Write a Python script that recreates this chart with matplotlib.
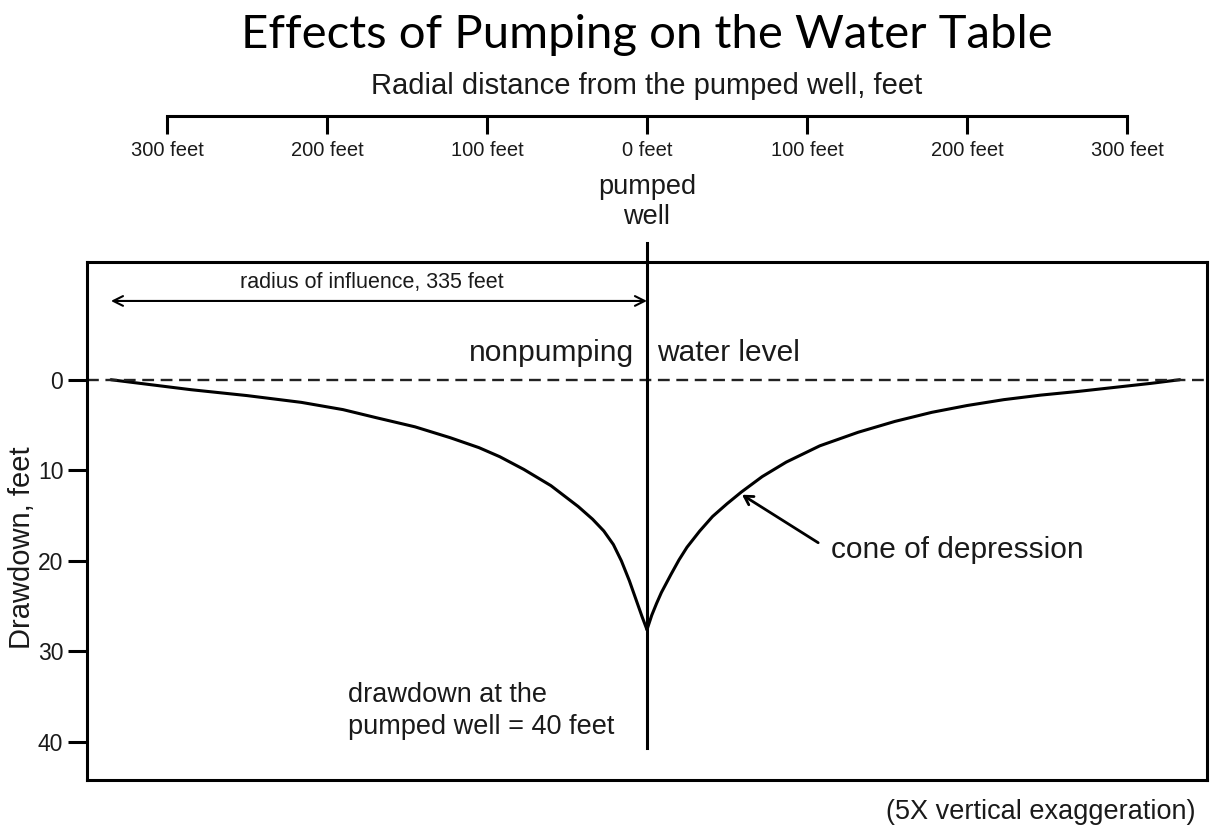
import matplotlib.pyplot as plt

# cone of depression (feet from well, drawdown in feet)
left_x = [-335, -310, -285, -250, -216, -190, -169, -145, -123, -105, -92, -77,
          -60, -43, -34, -27, -21, -16, -11, -7, -3, 0]
left_y = [0, 0.55, 1.1, 1.75, 2.5, 3.3, 4.2, 5.2, 6.4, 7.5, 8.5, 9.9,
          11.7, 14.0, 15.4, 16.7, 18.2, 20.0, 22.2, 24.2, 26.2, 27.6]
right_x = [0, 3, 6, 9, 15, 20, 25, 33, 41, 50, 59, 72, 87, 108, 132, 155,
           178, 200, 223, 246, 269, 292, 315, 333]
right_y = [27.6, 26.0, 24.7, 23.5, 21.5, 19.9, 18.5, 16.7, 15.1, 13.7, 12.4, 10.7,
           9.1, 7.3, 5.8, 4.6, 3.6, 2.85, 2.2, 1.7, 1.3, 0.85, 0.4, 0]

distance_ticks = [-300, -200, -100, 0, 100, 200, 300]
distance_labels = ["300 feet", "200 feet", "100 feet", "0 feet",
                   "100 feet", "200 feet", "300 feet"]
drawdown_ticks = [0, 10, 20, 30, 40]

radius_of_influence = 335
well_top = -15.1
well_bottom = 40.7

TXT = "#1a1a1a"
plt.rcParams['font.family'] = ['Liberation Sans', 'DejaVu Sans']

fig = plt.figure(figsize=(12.11, 8.31), dpi=100)

# main panel
ax = fig.add_axes([0.0718, 0.0614, 0.9249, 0.6233])
ax.set_xlim(-350, 350)
ax.set_ylim(44.2, -13.0)
for s in ax.spines.values():
    s.set_linewidth(2.2)
ax.set_xticks([])
ax.set_yticks(drawdown_ticks)
ax.tick_params(axis='y', length=13.5, width=2.2, pad=3.5, labelsize=16.5, labelcolor=TXT)

ax.plot(left_x, left_y, color='black', lw=2.2, solid_capstyle='round', solid_joinstyle='round')
ax.plot(right_x, right_y, color='black', lw=2.2, solid_capstyle='round', solid_joinstyle='round')

# nonpumping water level
ax.axhline(0, xmin=0, xmax=1, color='#222222', lw=1.7, dashes=(5.0, 2.8))

# pumped well
ax.plot([0, 0], [well_top, well_bottom], color='black', lw=2.2, clip_on=False)

ax.annotate("", xy=(-radius_of_influence, -8.7), xytext=(0, -8.7),
            arrowprops=dict(arrowstyle='<->,head_length=0.7,head_width=0.35',
                            lw=1.5, color='black', shrinkA=0, shrinkB=0))
ax.text(-172, -10.7, "radius of influence, 335 feet", ha='center', va='center',
        fontsize=15.5, color=TXT)

ax.text(-8, -3.0, "nonpumping", ha='right', va='center', fontsize=21.5, color=TXT)
ax.text(6, -3.0, "water level", ha='left', va='center', fontsize=21.5, color=TXT)

ax.annotate("", xy=(59.4, 12.7), xytext=(107, 18.0),
            arrowprops=dict(arrowstyle='->,head_length=0.6,head_width=0.35',
                            lw=2.0, color='black', shrinkA=0, shrinkB=0))
ax.text(115, 18.8, "cone of depression", ha='left', va='center', fontsize=21.5, color=TXT)

ax.text(-187, 36.6, "drawdown at the\npumped well = 40 feet", ha='left', va='center',
        fontsize=19.5, color=TXT, linespacing=1.3)

ax.text(0, -19.6, "pumped\nwell", ha='center', va='center', fontsize=19.5,
        color=TXT, linespacing=1.2)

# radial distance scale above the panel
ax_top = fig.add_axes([0.0718, 0.8604, 0.9249, 0.0001])
ax_top.set_xlim(-350, 350)
ax_top.patch.set_visible(False)
for k in ['top', 'left', 'right']:
    ax_top.spines[k].set_visible(False)
ax_top.spines['bottom'].set_linewidth(2.2)
ax_top.spines['bottom'].set_bounds(-300, 300)
ax_top.set_yticks([])
ax_top.set_xticks(distance_ticks)
ax_top.set_xticklabels(distance_labels)
ax_top.tick_params(axis='x', length=13, width=2.2, pad=5, labelsize=14.5, labelcolor=TXT)

fig.text(647 / 1211, 0.8965, "Radial distance from the pumped well, feet",
         ha='center', va='center', fontsize=21, color=TXT)
fig.text(647 / 1211, 0.958, "Effects of Pumping on the Water Table",
         ha='center', va='center', fontsize=34, color='black', family=['Lato', 'DejaVu Sans'])
fig.text(22 / 1211, (831 - 548) / 831, "Drawdown, feet", rotation=90,
         ha='center', va='center', fontsize=21, color=TXT)
fig.text(1195 / 1211, 0.0229, "(5X vertical exaggeration)", ha='right', va='center',
         fontsize=19.5, color=TXT)

plt.savefig("out.png", dpi=100)
